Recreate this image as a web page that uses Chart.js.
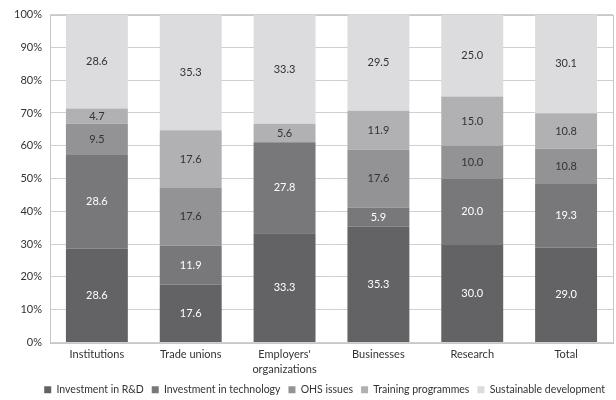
<!DOCTYPE html>
<html lang="en">
<head>
  <meta charset="UTF-8" />
  <title>Stacked shares by actor</title>
  <script src="https://cdn.jsdelivr.net/npm/chart.js"></script>
  <style>
    html, body { margin: 0; padding: 0; background: #fff; }
    .chart-container { position: relative; width: 616px; height: 400px; }
  </style>
</head>
<body>
  <div class="chart-container">
    <canvas id="shareChart"></canvas>
  </div>
  <script>
    const categories = ["Institutions", "Trade unions", ["Employers'", "organizations"], "Businesses", "Research", "Total"];
    const seriesNames = ["Investment in R&D", "Investment in technology", "OHS issues", "Training programmes", "Sustainable development"];
    const rdValues = [28.6, 17.6, 33.3, 35.3, 30.0, 29.0];
    const techValues = [28.6, 11.9, 27.8, 5.9, 20.0, 19.3];
    const ohsValues = [9.5, 17.6, 0, 17.6, 10.0, 10.8];
    const trainingValues = [4.7, 17.6, 5.6, 11.9, 15.0, 10.8];
    const sustainValues = [28.6, 35.3, 33.3, 29.5, 25.0, 30.1];
    const yTicks = [0, 10, 20, 30, 40, 50, 60, 70, 80, 90, 100];

    const seriesColors = ["#636366", "#78787b", "#939396", "#b1b1b4", "#dcdcde"];
    const labelColors = ["#ffffff", "#ffffff", "#333333", "#333333", "#333333"];
    const allValues = [rdValues, techValues, ohsValues, trainingValues, sustainValues];

    const fontFamily = "Lato, 'Open Sans', sans-serif";

    // draws value labels in the middle of each segment
    const valueLabels = {
      id: "valueLabels",
      afterDatasetsDraw(chart) {
        const ctx = chart.ctx;
        ctx.save();
        ctx.font = "11px " + fontFamily;
        ctx.textAlign = "center";
        ctx.textBaseline = "middle";
        chart.data.datasets.forEach((ds, i) => {
          const meta = chart.getDatasetMeta(i);
          meta.data.forEach((bar, j) => {
            const v = ds.data[j];
            if (!v) return;
            ctx.fillStyle = labelColors[i];
            ctx.fillText(v.toFixed(1), bar.x, (bar.y + bar.base) / 2);
          });
        });
        ctx.restore();
      }
    };

    // box round the plot area
    const plotBorder = {
      id: "plotBorder",
      beforeDatasetsDraw(chart) {
        const a = chart.chartArea;
        const ctx = chart.ctx;
        ctx.save();
        ctx.strokeStyle = "#c8c8c8";
        ctx.lineWidth = 1;
        ctx.strokeRect(Math.round(a.left) + 0.5, Math.round(a.top) + 0.5, Math.round(a.right - a.left), Math.round(a.bottom - a.top));
        ctx.restore();
      }
    };

    new Chart(document.getElementById("shareChart"), {
      type: "bar",
      data: {
        labels: categories,
        datasets: seriesNames.map((name, i) => ({
          label: name,
          data: allValues[i],
          backgroundColor: seriesColors[i],
          borderWidth: 0,
          categoryPercentage: 1,
          barPercentage: 0.66
        }))
      },
      options: {
        responsive: true,
        maintainAspectRatio: false,
        animation: false,
        layout: { padding: { left: 6, right: 3, top: 7, bottom: -5 } },
        plugins: {
          legend: {
            position: "bottom",
            align: "end",
            labels: {
              boxWidth: 7,
              boxHeight: 7,
              padding: 8,
              color: "#333",
              font: { family: fontFamily, size: 10.5, lineHeight: 1 }
            }
          },
          tooltip: { enabled: false }
        },
        scales: {
          x: {
            stacked: true,
            grid: { display: false, drawTicks: false },
            border: { display: false },
            ticks: { color: "#333", font: { family: fontFamily, size: 11, lineHeight: 1.4 }, maxRotation: 0, padding: 4 },
            afterFit(axis) { axis.height = 34; }
          },
          y: {
            stacked: true,
            min: 0,
            max: 100,
            afterBuildTicks(axis) { axis.ticks = yTicks.map(v => ({ value: v })); },
            grid: { color: "#d0d0d0", drawTicks: false },
            border: { display: false },
            ticks: {
              color: "#333",
              padding: 8,
              font: { family: fontFamily, size: 11 },
              callback: v => v + "%"
            }
          }
        }
      },
      plugins: [plotBorder, valueLabels]
    });
  </script>
</body>
</html>
